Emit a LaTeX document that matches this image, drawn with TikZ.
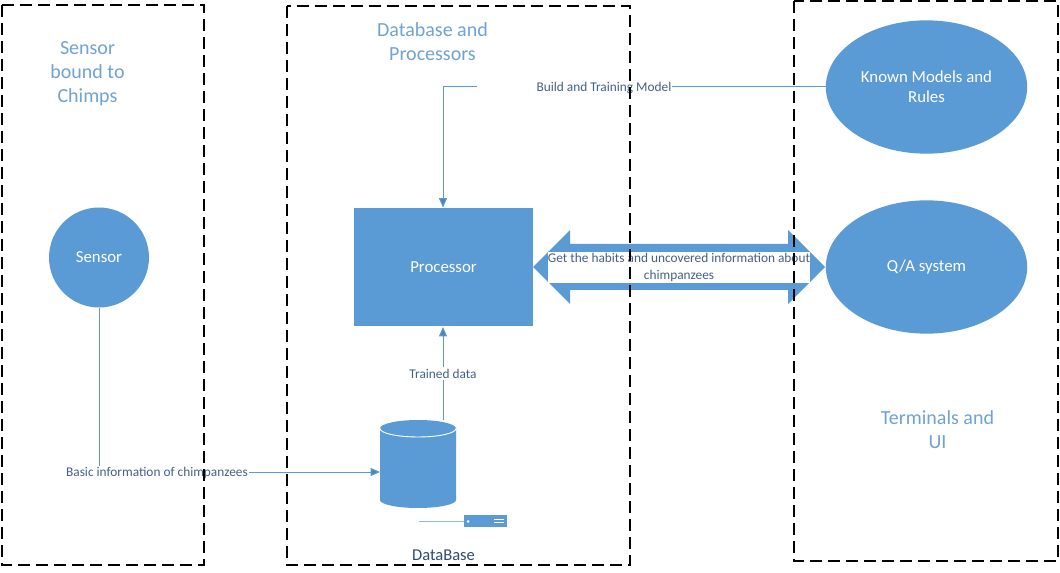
\documentclass[tikz,border=0pt]{standalone}
\usepackage{fontspec}
\setmainfont{Carlito}
\usetikzlibrary{shapes.geometric,arrows.meta}
\definecolor{fillblue}{HTML}{5B9BD5}
\definecolor{titleblue}{HTML}{6FA3D2}
\definecolor{lineblue}{HTML}{5B9BD5}
\definecolor{labelslate}{HTML}{44608A}
\definecolor{dbtext}{HTML}{2F4B73}
\tikzset{
  x=0.75pt,y=-0.75pt,
  zone/.style={draw=black,line width=1.3pt,dash pattern=on 9pt off 4.5pt},
  zonetitle/.style={text=titleblue,font=\fontsize{15pt}{18pt}\selectfont,align=center,inner sep=0pt},
  solid shape/.style={fill=fillblue,draw=none,text=white,font=\fontsize{12.6pt}{15pt}\selectfont,align=center},
  edgelabel/.style={fill=white,text=labelslate,font=\fontsize{10pt}{13pt}\selectfont,align=center,inner sep=1pt},
  conn/.style={draw=lineblue,line width=0.75pt},
  arrowconn/.style={conn,-{Triangle[length=7pt,width=6pt,fill=lineblue!85!black]}},
}
\begin{document}
\begin{tikzpicture}
\useasboundingbox (0,0) rectangle (1060,573);
\fill[white] (0,0) rectangle (1060,573);

% shapes
\node[solid shape,circle,minimum size=75pt] (sensor) at (99,257.5) {\raisebox{-0.5pt}{Sensor}};
\node[solid shape,rectangle,minimum width=134.5pt,minimum height=89pt] (processor) at (443.5,267) {Processor};
\node[solid shape,ellipse,minimum width=151pt,minimum height=100pt,inner sep=0pt] (known) at (926.5,87) {Known Models and\\Rules};
\node[solid shape,ellipse,minimum width=151pt,minimum height=100pt,inner sep=0pt] (qa) at (926.5,267) {\raisebox{-0.7pt}{Q/A system}};

% database cylinder
\fill[fillblue] (380,428.5) arc[start angle=180,end angle=360,x radius=38,y radius=8.5]
  -- (456,500) arc[start angle=0,end angle=180,x radius=38,y radius=8] -- cycle;
\draw[white,line width=0.7pt] (380,428.5) arc[start angle=180,end angle=0,x radius=38,y radius=8.5];
\node[minimum width=57pt,minimum height=66pt,inner sep=0pt,outer sep=0pt] (db) at (418,464) {};

% server icon
\coordinate (srvstart) at (419,521);
\node[fill=fillblue,draw=none,minimum width=32pt,minimum height=8.5pt,inner sep=0pt] (server) at (485.5,521) {};
\draw[conn,draw=lineblue!70] (srvstart) -- (server.west);
\fill[white] (468,521.5) circle[radius=1.5];
\draw[white,line width=0.7pt] (494,519.5) -- (504,519.5) (494,522.5) -- (504,522.5);

% connectors
\draw[arrowconn] (sensor.south) -- (99,472) -- (db.west |- 0,472);
\node[edgelabel] (basic) at (157,473) {Basic information of chimpanzees};

\coordinate (dbtop) at (443,420);
\draw[arrowconn] (dbtop) -- (443,327);
\node[edgelabel] (trained) at (443,373.5) {Trained data};

\coordinate (mbend) at (443,87);
\draw[arrowconn] (known.west) -- (mbend) -- (443,207.5);
\node[fill=white,inner sep=0pt,minimum width=146pt,minimum height=13pt] (buildbg) at (574.5,87) {};
\node[edgelabel,inner sep=0pt] (build) at (604,87.7) {Build and Training Model};

% double block arrow
\fill[fillblue] (533,267) -- (570,230) -- (570,244) -- (788,244) -- (788,230) -- (825,267) -- (788,304) -- (788,290) -- (570,290) -- (570,304) -- cycle;
\fill[white] (548,252) rectangle (810,283);
\node[text=labelslate,font=\fontsize{10pt}{12.5pt}\selectfont,align=center,inner sep=0pt] (habits) at (679,267.7) {Get the habits and uncovered information about\\chimpanzees};

% zones
\draw[zone] (2,5) rectangle (204,565);
\draw[zone] (287,6) rectangle (630,565);
\draw[zone] (794,1) rectangle (1058,561);

% titles
\node[zonetitle] (t1) at (87.5,73.5) {Sensor\\bound to\\Chimps};
\node[zonetitle] (t2) at (432.5,42) {Database and\\Processors};
\node[zonetitle] (t3) at (937.5,429.5) {Terminals and\\UI};
\node[text=dbtext,font=\fontsize{12.4pt}{14pt}\selectfont,inner sep=0pt] (dblabel) at (443.5,555) {DataBase};
\end{tikzpicture}
\end{document}
